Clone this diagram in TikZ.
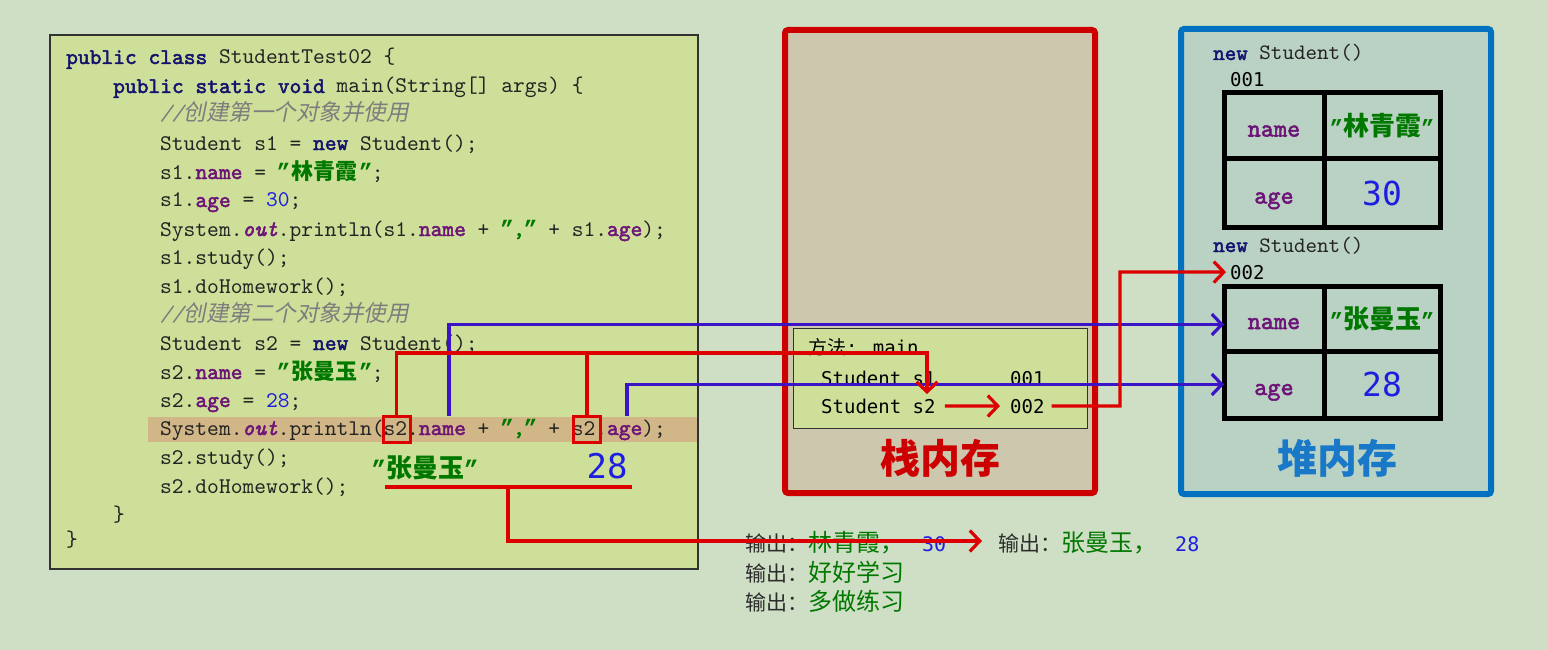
\documentclass[tikz,border=0pt]{standalone}
\usepackage{fontspec}
\usetikzlibrary{arrows.meta}
\setmainfont{Liberation Serif}
\newfontfamily\smono{DejaVu Sans Mono}
\newfontfamily\cjk{Noto Sans CJK SC}
\newfontfamily\cjkit[FakeSlant=0.2]{Noto Sans CJK SC}
\newfontfamily\cmono{lmmono10-regular.otf}
\newfontfamily\cmonob[FakeBold=2.2]{lmmono10-regular.otf}
\newfontfamily\cmonoi{lmmono10-italic.otf}
\newfontfamily\cmonobi[FakeBold=2.2]{lmmono10-italic.otf}
\newfontfamily\qfont{Liberation Mono}
\definecolor{bgc}{RGB}{207,223,197}
\definecolor{codebg}{RGB}{206,223,153}
\definecolor{codeborder}{RGB}{50,50,50}
\definecolor{bandc}{RGB}{209,182,135}
\definecolor{stackbg}{RGB}{205,199,174}
\definecolor{heapbg}{RGB}{186,210,196}
\definecolor{stackred}{RGB}{204,0,0}
\definecolor{heapblue}{RGB}{0,112,192}
\definecolor{heaplbl}{RGB}{25,120,200}
\definecolor{arrowred}{RGB}{220,0,0}
\definecolor{arrowblue}{RGB}{60,20,200}
\definecolor{kwc}{RGB}{20,20,110}
\definecolor{fdc}{RGB}{110,20,120}
\definecolor{stc}{RGB}{0,120,0}
\definecolor{nmc}{RGB}{30,30,225}
\definecolor{cmc}{RGB}{125,125,125}
\definecolor{txtc}{RGB}{35,35,35}
\definecolor{outgray}{RGB}{45,45,45}
\newcommand\fs[1]{\fontsize{#1}{#1}\selectfont}
\newdimen\cjkw \cjkw=23.5pt
\newcommand\kw[1]{{\cmonob\color{kwc}#1}}
\newcommand\fd[1]{{\cmonob\color{fdc}#1}}
\newcommand\fdi[1]{{\cmonobi\color{fdc}#1}}
\newcommand\st[1]{{\cmonob\color{stc}#1}}
\newcommand\q{\makebox[11.76pt][c]{\qfont\bfseries ”}}
\newcommand\nm[1]{{\color{nmc}#1}}
\newcommand\cmt[1]{{\cmonoi\color{cmc}#1}}
\newcommand\zh[2]{\makebox[#1\cjkw][c]{\cjk\bfseries\fs{22}#2}}
\newcommand\zhi[2]{{\color{cmc}\makebox[#1\cjkw][l]{\cjkit\fs{22.5}#2}}}
\newcommand\outl{{\cjk\fs{21}\color{outgray}输出：}}
\newcommand\outg[1]{{\cjk\fs{24}\color{stc}#1}}
\newcommand\outn[1]{{\smono\fs{20}\color{nmc}#1}}
\begin{document}
\begin{tikzpicture}[x=1pt,y=-1pt,
  code/.style={anchor=base west, inner sep=0pt, font=\cmono\fs{22.4}, text=txtc},
  hcode/.style={anchor=base west, inner sep=0pt, font=\cmono\fs{22}, text=txtc},
  addr/.style={anchor=base west, inner sep=0pt, font=\smono\fs{19}, text=black},
  cell/.style={draw=black, line width=5pt, inner sep=0pt, outer sep=0pt, anchor=center},
  keycell/.style={cell, minimum width=100pt, font=\cmonob\fs{25}, text=fdc, text height=21pt, text depth=0pt},
  valcell/.style={cell, minimum width=116pt},
  conn/.style={line width=3.2pt},
  redc/.style={conn, draw=arrowred},
  bluec/.style={conn, draw=arrowblue},
  barb/.style={-{Straight Barb[length=10pt,width=21pt]}},
  s2box/.style={draw=arrowred, line width=3pt, minimum width=27pt, minimum height=26pt, inner sep=0pt},
]
\useasboundingbox (0,0) rectangle (1548,650);
\fill[bgc] (0,0) rectangle (1548,650);

% ---------------- code box ----------------
\draw[draw=codeborder, line width=1.5pt, fill=codebg] (50,35) rectangle (698,569);
\fill[bandc] (148,417) rectangle (697,442);
\node[code] (L1) at (66,64) {\kw{public class} StudentTest02 \{};
\node[code] (L2) at (113,93) {\kw{public static void} main(String[] args) \{};
\node[code] (L3) at (160,121) {\cmt{//}\zhi{10}{创建第一个对象并使用}};
\node[code] (L4) at (160,150) {Student s1 = \kw{new} Student();};
\node[code] (L5) at (160,179) {s1.\fd{name} = \st{\q\zh{3}{林青霞}\q};};
\node[code] (L6) at (160,207) {s1.\fd{age} = \nm{30};};
\node[code] (L7) at (160,236) {System.\fdi{out}.println(s1.\fd{name} + \st{\q,\q} + s1.\fd{age});};
\node[code] (L8) at (160,264) {s1.study();};
\node[code] (L9) at (160,293) {s1.doHomework();};
\node[code] (L10) at (160,321) {\cmt{//}\zhi{10}{创建第二个对象并使用}};
\node[code] (L11) at (160,350) {Student s2 = \kw{new} Student();};
\node[code] (L12) at (160,379) {s2.\fd{name} = \st{\q\zh{3}{张曼玉}\q};};
\node[code] (L13) at (160,407) {s2.\fd{age} = \nm{28};};
\node[code] (L14) at (160,435) {System.\fdi{out}.println(s2.\fd{name} + \st{\q,\q} + s2.\fd{age});};
\node[code] (L15) at (160,464) {s2.study();};
\node[code] (L16) at (160,493) {s2.doHomework();};
\node[code] (L17) at (113,521) {\}};
\node[code] (L18) at (66,546) {\}};

\node[s2box] (s2a) at (396.5,429) {};
\node[s2box] (s2b) at (587,429) {};
\node[inner sep=0pt] (zmy) at (425,468) {\color{stc}\qfont\bfseries\fs{24}”{\cjk\fs{26}张曼玉}”};
\node[inner sep=0pt] (n28) at (607,466) {\smono\fs{34}\color{nmc}28};

% ---------------- stack ----------------
\draw[draw=stackred, line width=6pt, fill=stackbg, rounded corners=3pt] (785,30) rectangle (1095,493);
\draw[draw=codeborder, line width=1pt, fill=codebg] (793,328) rectangle (1087,428);
\node[addr] (meth) at (808,354) {{\cjk 方法}: main};
\node[addr] (s1txt) at (821,385) {Student s1};
\node[addr] (st001) at (1010,385) {001};
\node[addr] (s2txt) at (821,413) {Student s2};
\node[addr] (st002) at (1010,413) {002};
\node[inner sep=0pt, font=\cjk\bfseries\fs{40}, text=stackred] (stacklabel) at (940,458) {栈内存};

% ---------------- heap ----------------
\draw[draw=heapblue, line width=6pt, fill=heapbg, rounded corners=3pt] (1181,29) rectangle (1491,494);
\node[hcode] (hn1) at (1213,60) {\kw{new} Student()};
\node[addr] (h001) at (1230,87) {001};
\node[keycell, minimum height=66pt] (h1name) at (1274,126) {name};
\node[valcell, minimum height=66pt] (h1val) at (1382,126) {\color{stc}\qfont\bfseries\fs{22}”{\cjk\bfseries\fs{26}林青霞}”};
\node[keycell, minimum height=68pt] (h1age) at (1274,193) {age};
\node[valcell, minimum height=68pt] (h1ageval) at (1382,193) {\smono\fs{33}\color{nmc}30};
\node[hcode] (hn2) at (1213,252) {\kw{new} Student()};
\node[addr] (h002) at (1230,279) {002};
\node[keycell, minimum height=65pt] (h2name) at (1274,318.5) {name};
\node[valcell, minimum height=65pt] (h2val) at (1382,318.5) {\color{stc}\qfont\bfseries\fs{22}”{\cjk\fs{26}张曼玉}”};
\node[keycell, minimum height=67pt] (h2age) at (1274,384.5) {age};
\node[valcell, minimum height=67pt] (h2ageval) at (1382,384.5) {\smono\fs{33}\color{nmc}28};
\node[inner sep=0pt, font=\cjk\bfseries\fs{40}, text=heaplbl] (heaplabel) at (1337,458) {堆内存};

% ---------------- output ----------------
\node[anchor=base west, inner sep=0pt] (o1) at (745,551) {\outl\outg{林青霞，}\hspace{18pt}\outn{30}};
\node[anchor=base west, inner sep=0pt] (o2) at (998,551) {\outl\outg{张曼玉，}\hspace{18pt}\outn{28}};
\node[anchor=base west, inner sep=0pt] (o3) at (745,581) {\outl\outg{好好学习}};
\node[anchor=base west, inner sep=0pt] (o4) at (745,610) {\outl\outg{多做练习}};

% ---------------- connectors ----------------
\coordinate (nameref) at (449,416);
\coordinate (ageref) at (627,416);
\coordinate (turn) at (927,353);
\coordinate (drop) at (927,394);
\coordinate (bend) at (1120,272);
\coordinate (ulL) at (385,487);
\coordinate (ulR) at (632,487);
\coordinate (ulM) at (508,487);
\coordinate (outtip) at (982,541);

\draw[bluec, barb] (nameref) |- ([yshift=-6pt]h2name.west);
\draw[bluec, barb] (ageref) |- (h2age.west);
\draw[redc, barb] (s2a.north) |- (turn) -- (drop);
\draw[redc] (s2b.north) -- (s2b.north |- turn);
\draw[redc, barb, shorten <=9pt, shorten >=10pt] (s2txt.east) -- (st002.west);
\draw[redc, barb, shorten <=7pt] (st002.east) -| (bend) -- ([xshift=-4pt]h002.west);
\draw[redc] (ulL) -- (ulR);
\draw[redc, barb] (ulM) |- (outtip);
\end{tikzpicture}
\end{document}
